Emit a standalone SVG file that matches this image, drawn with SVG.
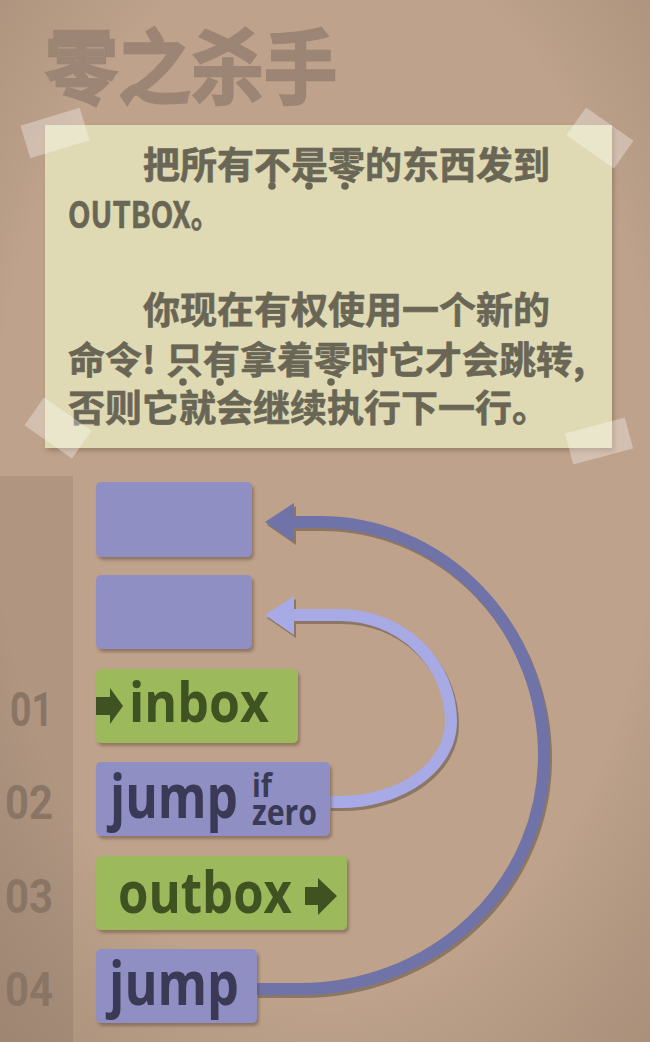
<svg xmlns="http://www.w3.org/2000/svg" width="650" height="1042" viewBox="0 0 650 1042">
  <defs>
    <radialGradient id="vig" cx="50%" cy="45%" r="78%">
      <stop offset="0.65" stop-color="#000" stop-opacity="0"/>
      <stop offset="1" stop-color="#3a2412" stop-opacity="0.16"/>
    </radialGradient>
    <filter id="sh" x="-10%" y="-10%" width="130%" height="140%">
      <feDropShadow dx="2" dy="3" stdDeviation="1.5" flood-color="#5a4232" flood-opacity="0.45"/>
    </filter>
    <filter id="nsh" x="-5%" y="-5%" width="110%" height="115%">
      <feDropShadow dx="2" dy="3" stdDeviation="2" flood-color="#5a4232" flood-opacity="0.35"/>
    </filter>
  </defs>
  <style>
    .cjk { font-family: "Noto Sans CJK SC", "Noto Sans", sans-serif; font-weight: 700; }
    .note-t { font-size: 37px; fill: #6a6656; stroke: #6a6656; stroke-width: 0.6px; }
    .dot { fill: #6a6656; }
    .tape { fill: #ffffff; fill-opacity: 0.32; }
    .box-p { fill: #8f8fc4; }
    .box-g { fill: #9cba5c; }
    .cmd { font-family: "Open Sans", "Noto Sans", sans-serif; font-weight: 700; }
    .cmd-p { fill: #3a3a56; }
    .cmd-g { fill: #3f5222; }
    .ln { font-family: "Roboto", "Liberation Sans", sans-serif; font-weight: 700; font-size: 48px; fill: #8a7565; }
    .arc-sh { fill: none; stroke: #8c7664; stroke-width: 12; }
    .head-sh { fill: #8c7664; }
    .arc-dark { fill: none; stroke: #6f73a8; stroke-width: 12; }
    .head-dark { fill: #6f73a8; }
    .arc-light { fill: none; stroke: #a8aae6; stroke-width: 12; }
    .head-light { fill: #a8aae6; }
  </style>

  <!-- background -->
  <rect x="0" y="0" width="650" height="1042" fill="#bea28b"/>
  <rect x="0" y="476" width="73" height="566" fill="#ad947e" fill-opacity="0.8"/>
  <rect x="0" y="0" width="650" height="1042" fill="url(#vig)"/>

  <!-- title -->
  <g id="title">
    <text class="cjk" transform="translate(45,97) scale(1,1.1)" x="0" y="0" font-size="73" fill="#9c8574" stroke="#9c8574" stroke-width="2.2" font-weight="900">零之杀手</text>
  </g>

  <!-- note -->
  <g id="note">
    <rect x="45" y="125" width="567" height="323" fill="#dfdab3" filter="url(#nsh)"/>
    <text class="cjk note-t" x="143" y="179">把所有不是零的东西发到</text>
    <text class="cjk note-t" x="68" y="228" textLength="152" lengthAdjust="spacingAndGlyphs" font-size="43" stroke-width="1">OUTBOX。</text>
    <text class="cjk note-t" x="143" y="324">你现在有权使用一个新的</text>
    <text class="cjk note-t" y="374"><tspan x="68">命令!</tspan><tspan x="166">只有拿着零时它才会跳转,</tspan></text>
    <text class="cjk note-t" x="68" y="422">否则它就会继续执行下一行。</text>
    <circle class="dot" cx="272" cy="186" r="3.8"/>
    <circle class="dot" cx="309" cy="186" r="3.8"/>
    <circle class="dot" cx="345" cy="186" r="3.8"/>
    <circle class="dot" cx="183" cy="382" r="3.8"/>
    <circle class="dot" cx="220" cy="382" r="3.8"/>
    <circle class="dot" cx="331" cy="382" r="3.8"/>
  </g>

  <!-- tapes -->
  <g id="tapes">
    <rect class="tape" x="-31" y="-17" width="62" height="34" transform="translate(55,133) rotate(-17)"/>
    <rect class="tape" x="-29" y="-17" width="58" height="34" transform="translate(600,138) rotate(35)"/>
    <rect class="tape" x="-29" y="-17" width="58" height="34" transform="translate(58,428) rotate(35)"/>
    <rect class="tape" x="-31" y="-16" width="62" height="32" transform="translate(599,441) rotate(-15)"/>
  </g>

  <!-- line numbers -->
  <g id="line-numbers">
    <text class="ln" x="10" y="726" textLength="43" lengthAdjust="spacingAndGlyphs">01</text>
    <text class="ln" x="5" y="819" textLength="48" lengthAdjust="spacingAndGlyphs">02</text>
    <text class="ln" x="5" y="913" textLength="48" lengthAdjust="spacingAndGlyphs">03</text>
    <text class="ln" x="5" y="1006" textLength="48" lengthAdjust="spacingAndGlyphs">04</text>
  </g>

  <!-- empty target boxes -->
  <g id="target1">
    <rect class="box-p" x="96" y="482" width="156" height="75" rx="5" filter="url(#sh)"/>
  </g>
  <g id="target2">
    <rect class="box-p" x="96" y="575" width="156" height="74" rx="5" filter="url(#sh)"/>
  </g>

  <!-- connectors -->
  <g id="connectors">
    <g transform="translate(2,3)">
      <path class="arc-sh" d="M256,989 H300 A244,233 0 0 0 544,756 A224,234 0 0 0 320,522 H293"/>
      <polygon class="head-sh" points="265,522 294,503 294,542"/>
      <path class="arc-sh" d="M329,802 H340 A111,80 0 0 0 451,722 A111,107 0 0 0 340,615 H293"/>
      <polygon class="head-sh" points="265,615 294,596 294,635"/>
    </g>
    <path class="arc-dark" d="M256,989 H300 A244,233 0 0 0 544,756 A224,234 0 0 0 320,522 H290"/>
    <polygon class="head-dark" points="265,522 294,503 294,542"/>
    <path class="arc-light" d="M329,802 H340 A111,80 0 0 0 451,722 A111,107 0 0 0 340,615 H290"/>
    <polygon class="head-light" points="265,615 294,596 294,635"/>
  </g>

  <!-- commands -->
  <g id="cmd01">
    <rect class="box-g" x="96" y="669" width="202" height="74" rx="5" filter="url(#sh)"/>
    <polygon class="cmd-g" points="96,697 110,697 110,688 123,706 110,724 110,715 96,715"/>
    <text class="cmd cmd-g" x="129" y="722" font-size="55" textLength="140" lengthAdjust="spacingAndGlyphs">inbox</text>
  </g>
  <g id="cmd02">
    <rect class="box-p" x="96" y="762" width="234" height="74" rx="5" filter="url(#sh)"/>
    <text class="cmd cmd-p" x="110" y="818" font-size="60" textLength="128" lengthAdjust="spacingAndGlyphs">jump</text>
    <text class="cmd cmd-p"><tspan x="252" y="797" font-size="33" textLength="20" lengthAdjust="spacingAndGlyphs">if</tspan><tspan x="252" y="825" font-size="36" textLength="65" lengthAdjust="spacingAndGlyphs">zero</tspan></text>
  </g>
  <g id="cmd03">
    <rect class="box-g" x="96" y="856" width="251" height="74" rx="5" filter="url(#sh)"/>
    <text class="cmd cmd-g" x="118" y="913" font-size="58" textLength="174" lengthAdjust="spacingAndGlyphs">outbox</text>
    <polygon class="cmd-g" points="305,887 318,887 318,878 337,896 318,915 318,905 305,905"/>
  </g>
  <g id="cmd04">
    <rect class="box-p" x="96" y="949" width="161" height="74" rx="5" filter="url(#sh)"/>
    <text class="cmd cmd-p" x="109" y="1005" font-size="60" textLength="130" lengthAdjust="spacingAndGlyphs">jump</text>
  </g>
</svg>
